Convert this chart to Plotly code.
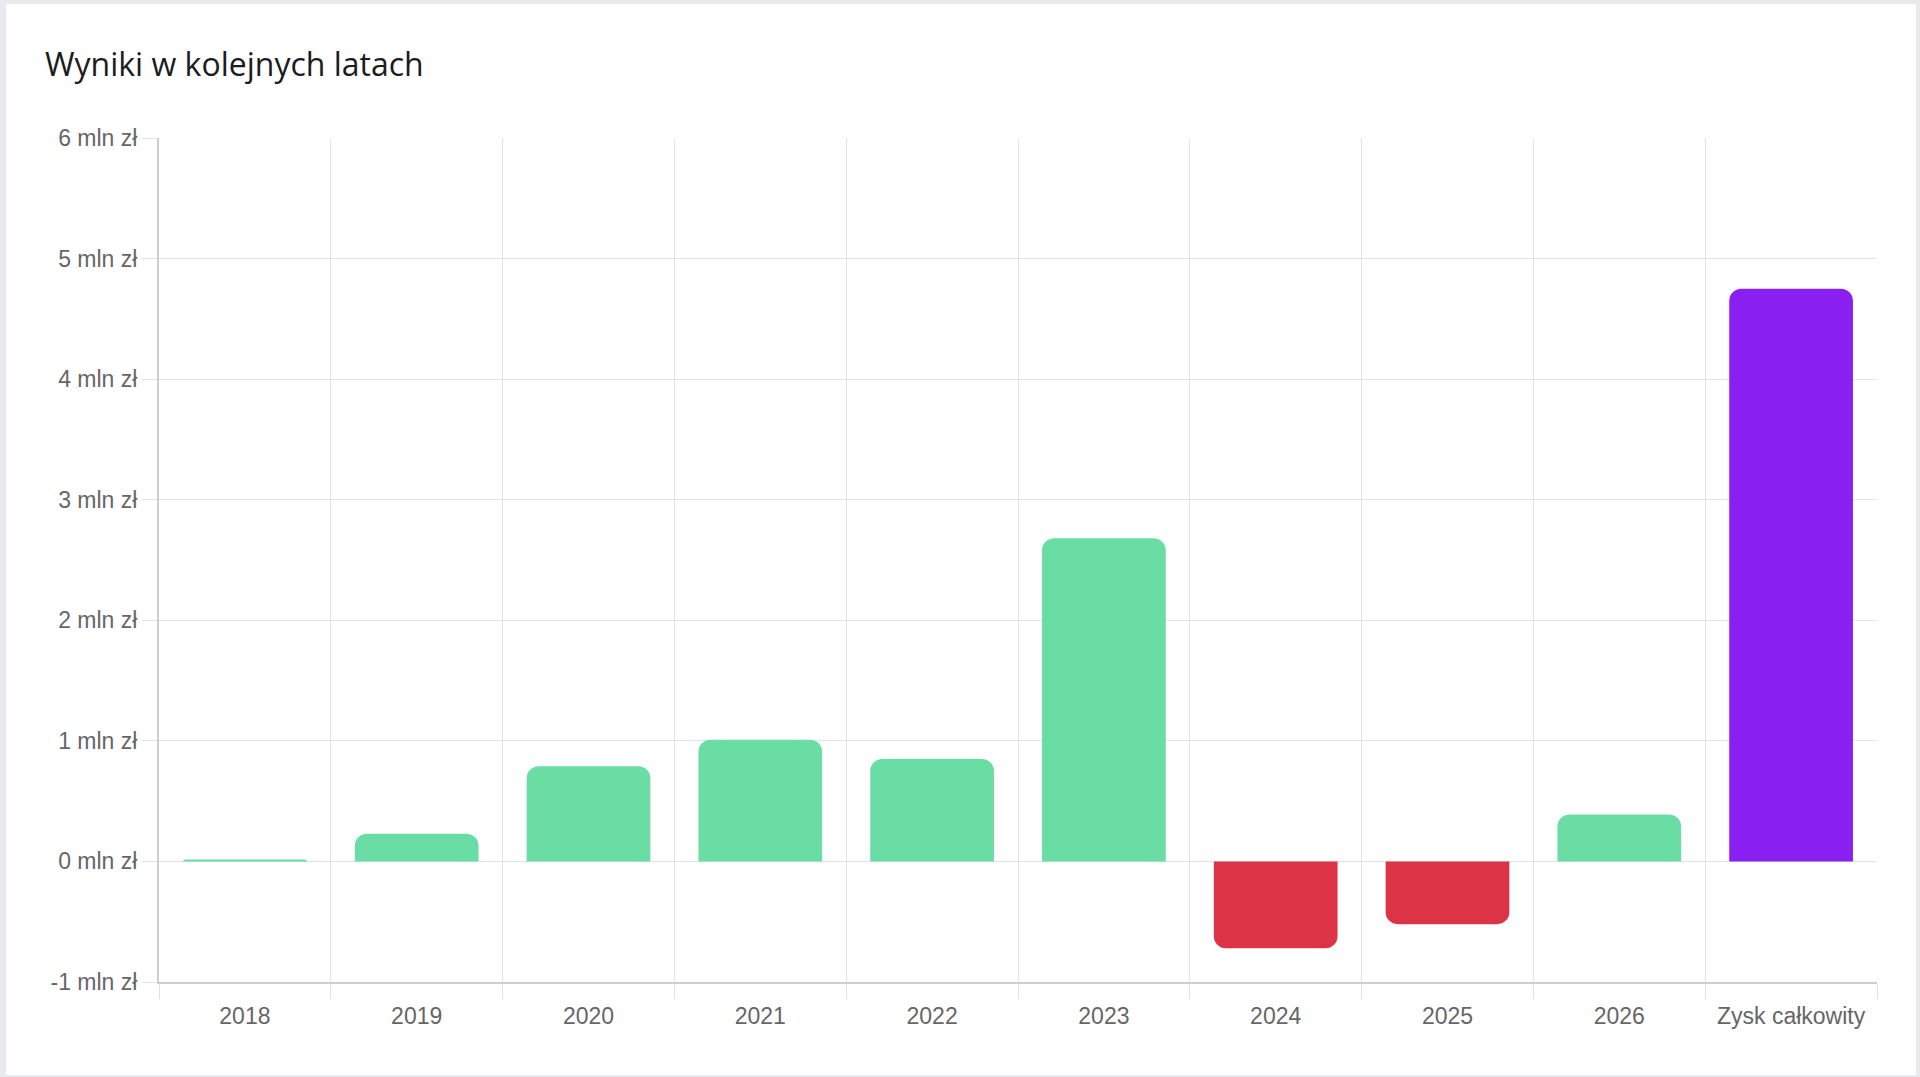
"""Yearly results as a bar chart: green for profit years, red for losses, purple for the total."""

import plotly.graph_objects as go

# Data (in mln zł).
years = ["2018", "2019", "2020", "2021", "2022", "2023", "2024", "2025", "2026"]
yearly_result = [0.017, 0.23, 0.79, 1.01, 0.85, 2.68, -0.72, -0.52, 0.39]
total_label = "Zysk całkowity"
total_result = 4.75

y_tickvals = [-1, 0, 1, 2, 3, 4, 5, 6]
y_ticktext = ["-1 mln zł", "0 mln zł", "1 mln zł", "2 mln zł", "3 mln zł",
              "4 mln zł", "5 mln zł", "6 mln zł"]

GREEN = "#6ADDA4"
RED = "#DC3347"
PURPLE = "#8A1FF1"
GRID = "#e2e2e2"
AXIS = "#cdcdcd"
TICK_FONT = dict(family="Liberation Sans, Arial, sans-serif", size=23, color="#666666")

cats = years + [total_label]
vals = yearly_result + [total_result]
colors = [GREEN if v >= 0 else RED for v in yearly_result] + [PURPLE]

fig = go.Figure(go.Bar(
    x=cats, y=vals, marker=dict(color=colors, line=dict(width=0)),
    hovertemplate="%{x}: %{y:.2f} mln zł<extra></extra>",
))

# Page margins picked so the plot area lands where the reference has it.
L, R, T, B = 159, 43, 138, 95
W, H = 1920, 1077
pw, ph = W - L - R, H - T - B

# White card on a pale grey page.
fig.add_shape(type="rect", xref="paper", yref="paper", layer="below",
              x0=(6 - L) / pw, x1=(W - 4 - L) / pw,
              y0=(H - B - (H - 2)) / ph, y1=(H - B - 4) / ph,
              fillcolor="white", line=dict(width=0))

fig.update_layout(
    width=W, height=H,
    margin=dict(l=L, r=R, t=T, b=B),
    paper_bgcolor="#e9eaed", plot_bgcolor="white",
    title=dict(text="Wyniki w kolejnych latach", xref="container", yref="container",
               x=45 / W, xanchor="left", y=1 - 65 / H, yanchor="middle",
               font=dict(family="Open Sans, Lato, sans-serif", size=32, color="#1c1c1c")),
    bargap=0.28, barcornerradius=12, showlegend=False,
)
fig.update_xaxes(type="category", tickson="boundaries", showgrid=True, gridcolor=GRID,
                 gridwidth=1, ticks="outside", ticklen=15, tickcolor=GRID,
                 ticklabelstandoff=12,
                 showline=True, linecolor=AXIS, linewidth=2, tickfont=TICK_FONT)
fig.update_yaxes(range=[-1, 6], tickvals=y_tickvals, ticktext=y_ticktext,
                 showgrid=True, gridcolor=GRID, gridwidth=1, zeroline=False,
                 ticks="outside", ticklen=15, tickcolor=GRID,
                 showline=True, linecolor=AXIS, linewidth=2, tickfont=TICK_FONT)

# The browser's default 8px body margin would shift the whole page.
fig.write_html("out.html", config=dict(displayModeBar=False),
               post_script="document.body.style.margin='0';")
